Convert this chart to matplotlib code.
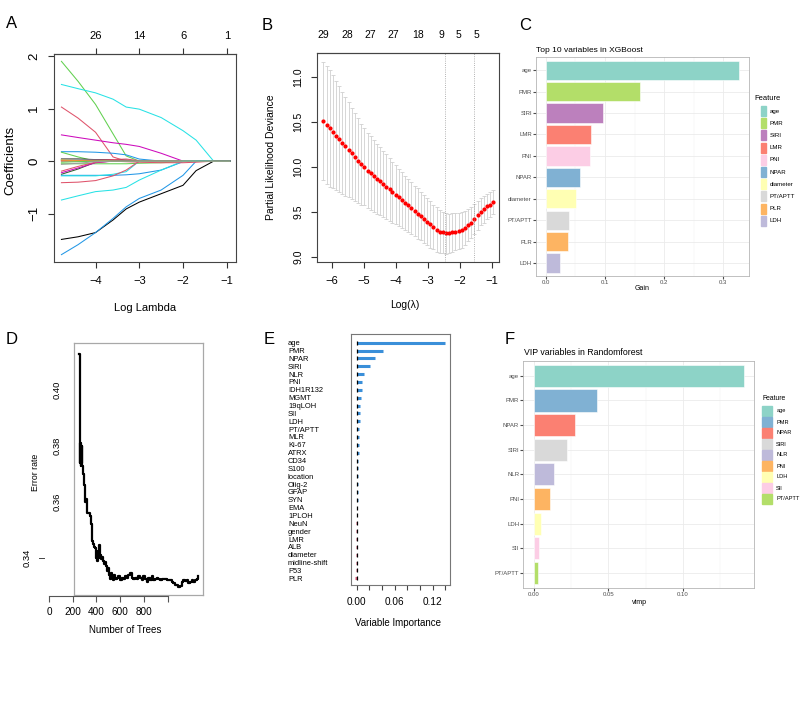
import numpy as np
import matplotlib
matplotlib.use('Agg')
import matplotlib.pyplot as plt
from matplotlib.patches import Rectangle

plt.rcParams['font.family'] = ['Liberation Sans', 'DejaVu Sans']

# ---- A: lasso coefficient paths
lam_grid = [-4.78, -4.4, -4.0, -3.6, -3.3, -3.0, -2.5, -2.0, -1.7, -1.3, -0.93]
coef_paths = [
    [1.90, 1.52, 1.08, 0.52, 0.10, 0, 0, 0, 0, 0, 0],
    [1.46, 1.38, 1.30, 1.18, 1.03, 0.99, 0.83, 0.58, 0.40, 0, 0],
    [1.03, 0.82, 0.55, 0.08, 0, 0, 0, 0, 0, 0, 0],
    [0.50, 0.45, 0.40, 0.35, 0.32, 0.28, 0.15, 0, 0, 0, 0],
    [0.18, 0.18, 0.17, 0.15, 0.12, 0.04, 0, 0, 0, 0, 0],
    [0.17, 0.08, 0.0, 0, 0, 0, 0, 0, 0, 0, 0],
    [0.04, 0.04, 0.03, 0.03, 0.02, 0, 0, 0, 0, 0, 0],
    [0.02, 0.02, 0.02, 0.02, 0.01, 0, 0, 0, 0, 0, 0],
    [0.01, 0.01, 0.02, 0.03, 0.04, 0.01, 0, 0, 0, 0, 0],
    [0.03, 0.03, 0.02, 0.01, 0, 0, 0, 0, 0, 0, 0],
    [0.02, 0.01, 0, 0, 0, 0, 0, 0, 0, 0, 0],
    [-0.05, -0.05, -0.05, -0.05, -0.05, -0.04, -0.03, -0.01, 0, 0, 0],
    [-0.25, -0.15, -0.02, 0, 0, 0, 0, 0, 0, 0, 0],
    [-0.22, -0.13, -0.03, 0, 0, 0, 0, 0, 0, 0, 0],
    [-0.19, -0.10, -0.02, 0, 0, 0, 0, 0, 0, 0, 0],
    [-0.27, -0.27, -0.27, -0.27, -0.26, -0.24, -0.17, -0.01, 0, 0, 0],
    [-0.28, -0.28, -0.28, -0.25, -0.20, 0, 0, 0, 0, 0, 0],
    [-0.41, -0.40, -0.37, -0.28, -0.17, 0, 0, 0, 0, 0, 0],
    [-0.74, -0.66, -0.58, -0.55, -0.50, -0.36, -0.17, 0, 0, 0, 0],
    [-1.49, -1.44, -1.36, -1.12, -0.91, -0.78, -0.62, -0.46, -0.18, 0, 0],
    [-1.78, -1.59, -1.36, -1.09, -0.87, -0.71, -0.55, -0.27, 0, 0, 0],
    [0, 0, 0, 0, -0.01, -0.02, -0.03, -0.03, -0.02, 0, 0],
    [-0.02, -0.01, 0, 0, 0, 0, 0, 0, 0, 0, 0],
    [-0.06, -0.04, -0.01, 0, 0, 0, 0, 0, 0, 0, 0],
]
coef_colors = ['#61D04F', '#28E2E5', '#DF536B', '#CD0BBC', '#2297E6', '#61D04F',
               'black', '#1A1A6E', '#DF536B', '#9E9E9E', '#F5C710', '#61D04F',
               '#2E5E2E', '#CD0BBC', '#DF536B', '#2297E6', '#28E2E5', '#DF536B',
               '#28E2E5', 'black', '#2297E6', '#DF536B', '#61D04F', '#9E9E9E']
a_top_labels = ['26', '14', '6', '1']

# ---- B: cross-validation curve
b_loglam = [-6.27, -6.17, -6.07, -5.97, -5.88, -5.78, -5.68, -5.58, -5.48, -5.38,
            -5.29, -5.19, -5.09, -4.99, -4.89, -4.79, -4.70, -4.60, -4.50, -4.40,
            -4.30, -4.20, -4.11, -4.01, -3.91, -3.81, -3.71, -3.61, -3.52, -3.42,
            -3.32, -3.22, -3.12, -3.02, -2.93, -2.83, -2.73, -2.63, -2.53, -2.43,
            -2.34, -2.24, -2.14, -2.04, -1.94, -1.84, -1.75, -1.65, -1.55, -1.45,
            -1.35, -1.25, -1.16, -1.06, -0.96]
b_cvm = [10.51, 10.47, 10.43, 10.39, 10.35, 10.31, 10.27, 10.23, 10.19, 10.15,
         10.11, 10.07, 10.03, 10.00, 9.96, 9.93, 9.90, 9.87, 9.84, 9.81,
         9.78, 9.75, 9.72, 9.69, 9.66, 9.63, 9.60, 9.57, 9.54, 9.51,
         9.48, 9.45, 9.42, 9.39, 9.36, 9.33, 9.30, 9.28, 9.27, 9.26,
         9.26, 9.27, 9.28, 9.29, 9.30, 9.32, 9.35, 9.38, 9.42, 9.46,
         9.50, 9.53, 9.56, 9.58, 9.61]
b_cvsd = [0.66, 0.66, 0.65, 0.63, 0.61, 0.59, 0.57, 0.55, 0.53, 0.51,
          0.49, 0.47, 0.45, 0.43, 0.42, 0.41, 0.40, 0.39, 0.38, 0.37,
          0.36, 0.35, 0.34, 0.33, 0.32, 0.31, 0.30, 0.30, 0.29, 0.28,
          0.28, 0.27, 0.27, 0.26, 0.26, 0.25, 0.25, 0.24, 0.23, 0.23,
          0.22, 0.22, 0.21, 0.20, 0.20, 0.19, 0.18, 0.17, 0.17, 0.16,
          0.15, 0.15, 0.14, 0.14, 0.13]
b_top_pos = [-6.28, -5.53, -4.8, -4.08, -3.3, -2.57, -2.04, -1.47]
b_top_labels = ['29', '28', '27', '27', '18', '9', '5', '5']
lambda_min = -2.47
lambda_1se = -1.55

# ---- C: XGBoost gain
c_features = ['age', 'PMR', 'SIRI', 'LMR', 'PNI', 'NPAR', 'diameter', 'PT/APTT', 'PLR', 'LDH']
c_gain = [0.3265, 0.159, 0.097, 0.076, 0.075, 0.058, 0.051, 0.040, 0.038, 0.024]
c_colors = ['#8DD3C7', '#B3DE69', '#BC80BD', '#FB8072', '#FCCDE5',
            '#80B1D3', '#FFFFB3', '#D9D9D9', '#FDB462', '#BEBADA']

# ---- D: error rate vs trees
d_trees = [255, 258, 262, 266, 270, 274, 278, 282, 286, 292,
           300, 310, 320, 332, 345, 358, 365, 372, 380, 388,
           396, 402, 408, 414, 420, 426, 432, 438, 444, 452,
           460, 468, 476, 484, 492, 500, 508, 515, 522, 529,
           536, 545, 557, 570, 585, 600, 614, 628, 642, 656,
           670, 684, 698, 712, 726, 740, 754, 768, 782, 796,
           810, 824, 838, 852, 867, 881, 895, 909, 923, 937,
           951, 965, 979, 993, 1007, 1021, 1035, 1049, 1063, 1077,
           1092, 1106, 1120, 1134, 1148, 1162, 1176, 1190, 1204, 1218,
           1232, 1246, 1260]
d_err = [0.413, 0.374, 0.381, 0.373, 0.381, 0.374, 0.380, 0.373, 0.370, 0.366,
         0.360, 0.361, 0.356, 0.356, 0.355, 0.352, 0.346, 0.345, 0.344, 0.3435,
         0.340, 0.342, 0.339, 0.3425, 0.340, 0.3445, 0.341, 0.3395, 0.3405, 0.339,
         0.3385, 0.338, 0.3385, 0.337, 0.3355, 0.3365, 0.334, 0.3325, 0.3345, 0.3335,
         0.332, 0.334, 0.3325, 0.333, 0.3335, 0.332, 0.333, 0.3325, 0.3335, 0.333,
         0.334, 0.3345, 0.333, 0.3325, 0.333, 0.3325, 0.3335, 0.333, 0.332, 0.3335,
         0.3325, 0.3315, 0.333, 0.332, 0.3335, 0.332, 0.3325, 0.333, 0.3325, 0.332,
         0.3325, 0.3325, 0.3325, 0.332, 0.332, 0.332, 0.3315, 0.331, 0.3305, 0.3303,
         0.3297, 0.330, 0.3315, 0.332, 0.3318, 0.332, 0.331, 0.3315, 0.332, 0.3315,
         0.332, 0.3325, 0.3335]

# ---- E: variable importance
e_vars = ['age', 'PMR', 'NPAR', 'SIRI', 'NLR', 'PNI', 'IDH1R132', 'MGMT', '19qLOH', 'SII',
          'LDH', 'PT/APTT', 'MLR', 'Ki-67', 'ATRX', 'CD34', 'S100', 'location', 'Olig-2', 'GFAP',
          'SYN', 'EMA', '1PLOH', 'NeuN', 'gender', 'LMR', 'ALB', 'diameter', 'midline-shift', 'P53', 'PLR']
e_vimp = [0.140, 0.042, 0.029, 0.021, 0.012, 0.009, 0.009, 0.0065, 0.006, 0.0055,
          0.0048, 0.0042, 0.0038, 0.0034, 0.003, 0.0027, 0.0024, 0.002, 0.0018, 0.0016,
          0.0014, 0.0012, -0.0003, -0.0004, -0.0005, -0.0006, -0.0007, -0.0008, -0.0009, -0.001,
          -0.003]

# ---- F: random forest vimp
f_features = ['age', 'PMR', 'NPAR', 'SIRI', 'NLR', 'PNI', 'LDH', 'SII', 'PT/APTT']
f_vimp = [0.1408, 0.0422, 0.0274, 0.0225, 0.0137, 0.0106, 0.0045, 0.0038, 0.0027]
f_colors = ['#8DD3C7', '#80B1D3', '#FB8072', '#D9D9D9', '#BEBADA',
            '#FDB462', '#FFFFB3', '#FCCDE5', '#B3DE69']

W, H = 800, 713
fig = plt.figure(figsize=(8, 7.13), dpi=100)


def rect(l, t, r, b):
    return [l / W, 1 - b / H, (r - l) / W, (b - t) / H]


def ftext(x, y, s, **kw):
    kw.setdefault('ha', 'center')
    kw.setdefault('va', 'center')
    fig.text(x / W, 1 - y / H, s, **kw)


def frame(ax, col, lw):
    for sp in ax.spines.values():
        sp.set_color(col)
        sp.set_linewidth(lw)


# panel A
axA = fig.add_axes(rect(54, 54, 235.5, 262))
for path, col in zip(coef_paths, coef_colors):
    axA.plot(lam_grid, path, color=col, lw=0.75)
axA.set_xlim(-4.95, -0.8)
axA.set_ylim(-1.92, 2.04)
axA.set_xticks([-4, -3, -2, -1])
axA.set_yticks([-1, 0, 1, 2])
axA.tick_params(axis='x', labelsize=8, length=4, pad=6, color='#333')
axA.tick_params(axis='y', labelsize=9.5, length=4, pad=6, color='#333', labelrotation=90)
for lab in axA.get_yticklabels():
    lab.set_va('center')
topA = axA.secondary_xaxis('top')
topA.set_xticks([-4, -3, -2, -1], labels=a_top_labels)
topA.tick_params(labelsize=8, length=4, pad=5, color='#333')
frame(axA, '#444', 0.8)
frame(topA, '#444', 0.8)
ftext(10, 160, 'Coefficients', rotation=90, fontsize=9.5)
ftext(145, 308, 'Log Lambda', fontsize=8)
ftext(12, 23, 'A', fontsize=12)

# panel B
axB = fig.add_axes(rect(317, 53, 499, 262))
axB.errorbar(b_loglam, b_cvm, yerr=b_cvsd, fmt='none', ecolor='#D0D0D0',
             elinewidth=0.6, capsize=1.5, capthick=0.6)
axB.plot(b_loglam, b_cvm, 'o', color='red', ms=3, mec='none')
axB.axvline(lambda_min, ls=':', color='#999', lw=0.6)
axB.axvline(lambda_1se, ls=':', color='#999', lw=0.6)
axB.set_xlim(-6.47, -0.78)
axB.set_ylim(8.94, 11.27)
axB.set_xticks([-6, -5, -4, -3, -2, -1])
axB.set_yticks([9.0, 9.5, 10.0, 10.5, 11.0], labels=['9.0', '9.5', '10.0', '10.5', '11.0'])
axB.tick_params(axis='x', labelsize=8, length=4, pad=6, color='#333')
axB.tick_params(axis='y', labelsize=7.5, length=4, pad=6, color='#333', labelrotation=90)
for lab in axB.get_yticklabels():
    lab.set_va('center')
topB = axB.secondary_xaxis('top')
topB.set_xticks(b_top_pos, labels=b_top_labels)
topB.tick_params(labelsize=7.5, length=0, pad=9)
frame(axB, '#444', 0.8)
frame(topB, '#444', 0.8)
ftext(271, 157, 'Partial Likelihood Deviance', rotation=90, fontsize=7.5)
ftext(405, 305, 'Log(λ)', fontsize=7.5)
ftext(267, 26, 'B', fontsize=12)


def gg_bars(ax, feats, vals, cols, xmax, ticks, ticklabels, minor):
    pos = np.arange(len(feats))
    ax.barh(pos, vals, height=0.9, color=cols, edgecolor='white', lw=0.4, zorder=3)
    ax.set_ylim(len(feats) - 0.4, -0.6)
    ax.set_yticks(pos, labels=feats)
    ax.set_xlim(-0.05 * xmax, 1.05 * xmax)
    ax.set_xticks(ticks, labels=ticklabels)
    ax.set_xticks(minor, minor=True)
    ax.grid(which='major', color='#EBEBEB', lw=0.6)
    ax.grid(which='minor', axis='x', color='#F2F2F2', lw=0.35)
    ax.set_axisbelow(True)
    ax.tick_params(which='major', labelsize=4.3, color='#4D4D4D', labelcolor='#4D4D4D', length=2, pad=1)
    ax.tick_params(which='minor', length=0)
    frame(ax, '#B5B5B5', 0.6)


def gg_legend(x0, y0, step, kw, kh, feats, cols, title, fs, tfs, tx, ty):
    ftext(tx, ty, title, ha='left', fontsize=tfs)
    for i, (name, col) in enumerate(zip(feats, cols)):
        yc = y0 + i * step
        fig.add_artist(Rectangle((x0 / W, 1 - (yc + kh / 2) / H), kw / W, kh / H,
                                 color=col, transform=fig.transFigure))
        ftext(x0 + kw + 4, yc, name, ha='left', fontsize=fs)


# panel C
axC = fig.add_axes(rect(536, 57.3, 748.7, 276))
gg_bars(axC, c_features, c_gain, c_colors, max(c_gain),
        [0, 0.1, 0.2, 0.3], ['0.0', '0.1', '0.2', '0.3'], [0.05, 0.15, 0.25])
ftext(536, 50, 'Top 10 variables in XGBoost', ha='left', fontsize=6)
ftext(642, 289, 'Gain', fontsize=5)
gg_legend(760.7, 111, 12.2, 5.3, 10, c_features, c_colors, 'Feature', 4.4, 5.4, 754.3, 98)
ftext(525, 26, 'C', fontsize=12)

# panel D
axD = fig.add_axes(rect(74, 343, 202.7, 595))
axD.plot(d_trees, d_err, color='black', lw=1.6, drawstyle='steps-post')
axD.set_xlim(211, 1297)
axD.set_ylim(0.3268, 0.4168)
axD.set_xticks([])
axD.set_yticks([])
frame(axD, '#A8A8A8', 0.9)
ytr = axD.get_yaxis_transform()
for v in [0.40, 0.38, 0.36]:
    axD.text(-0.132, v, f'{v:.2f}', transform=ytr, rotation=90, ha='center', va='center', fontsize=6.8)
axD.text(-0.365, 0.34, '0.34', transform=ytr, rotation=90, ha='center', va='center', fontsize=6.8)
axD.plot([-0.27, -0.235], [0.34, 0.34], transform=ytr, clip_on=False, color='#444', lw=0.7)
axD2 = fig.add_axes(rect(49, 343, 202.7, 596))
axD2.patch.set_visible(False)
axD2.set_xlim(0, 1295)
for s in ['top', 'left', 'right']:
    axD2.spines[s].set_visible(False)
axD2.spines['bottom'].set_bounds(0, 1000)
axD2.spines['bottom'].set_color('#555')
axD2.spines['bottom'].set_linewidth(0.8)
axD2.set_yticks([])
axD2.set_xticks([0, 200, 400, 600, 800, 1000], labels=['0', '200', '400', '600', '800', ''])
axD2.tick_params(axis='x', labelsize=7.2, length=4, pad=4, color='#555')
ftext(35, 472, 'Error rate', rotation=90, fontsize=6.3)
ftext(125, 630, 'Number of Trees', fontsize=7)
ftext(11.5, 339, 'D', fontsize=12)

# panel E
axE = fig.add_axes(rect(351, 334, 449.5, 585))
epos = np.arange(len(e_vars))
e_cols = ['#3A8FD9' if v > 0 else '#E0607E' for v in e_vimp]
axE.hlines(epos, 0, e_vimp, colors=e_cols, lw=2.2)
axE.plot(np.zeros(len(e_vars)), epos, '|', color='black', ms=3.2, mew=0.9)
axE.set_xlim(-0.009, 0.1466)
axE.set_ylim(30.85, -1.11)
axE.set_xticks([0, 0.02, 0.04, 0.06, 0.08, 0.10, 0.12, 0.14],
               labels=['0.00', '', '', '0.06', '', '', '0.12', ''])
axE.set_yticks(epos, labels=e_vars)
for lab in axE.get_yticklabels():
    lab.set_ha('left')
axE.tick_params(axis='y', length=0, pad=45.4, labelsize=5.4)
axE.tick_params(axis='x', length=3.5, pad=5, labelsize=7.2, color='#444')
frame(axE, '#777', 0.8)
ftext(398, 623, 'Variable Importance', fontsize=7)
ftext(269, 339, 'E', fontsize=12)

# panel F
axF = fig.add_axes(rect(523.3, 361, 754.3, 587.7))
gg_bars(axF, f_features, f_vimp, f_colors, max(f_vimp),
        [0, 0.05, 0.10], ['0.00', '0.05', '0.10'], [0.025, 0.075, 0.125])
ftext(524, 352.7, 'VIP variables in Randomforest', ha='left', fontsize=6.3)
ftext(639.3, 602.7, 'vimp', fontsize=5.1)
gg_legend(762.3, 411, 11, 10, 10, f_features, f_colors, 'Feature', 4.1, 4.9, 762.3, 399)
ftext(510, 340, 'F', fontsize=12)

fig.savefig('out.png', dpi=100, facecolor='white')
